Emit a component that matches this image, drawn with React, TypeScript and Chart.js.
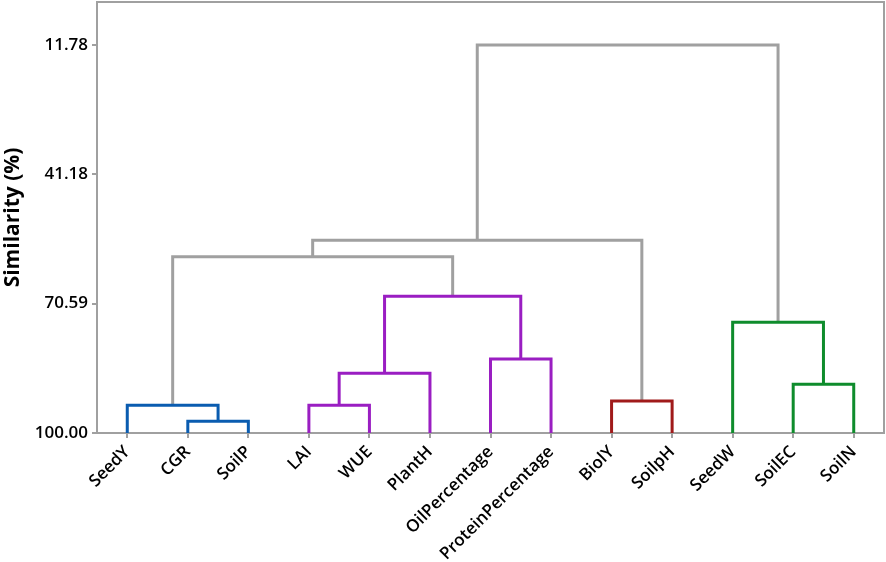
import React, { useEffect, useRef } from "react";
import { Chart, registerables } from "chart.js";

Chart.register(...registerables);

const leaves = [
  "SeedY", "CGR", "SoilP", "LAI", "WUE", "PlantH", "OilPercentage",
  "ProteinPercentage", "BiolY", "SoilpH", "SeedW", "SoilEC", "SoilN",
];

// merge k creates node (leaves.length + k)
const mergeLeft = [1, 0, 3, 15, 6, 16, 14, 8, 19, 11, 10, 21];
const mergeRight = [2, 13, 4, 5, 7, 17, 18, 9, 20, 12, 22, 23];
const mergeHeight = [97.3, 93.7, 93.7, 86.4, 83.2, 68.9, 59.9, 92.7, 56.2, 88.9, 74.8, 11.78];
const mergeColor = [
  "#0A5CB0", "#0A5CB0", "#9A1EC2", "#9A1EC2", "#9A1EC2", "#9A1EC2",
  "#A0A0A0", "#A01A1A", "#A0A0A0", "#0E8C2C", "#0E8C2C", "#A0A0A0",
];

const yTicks = [11.78, 41.18, 70.59, 100.0];

const FONT = "'Open Sans', 'Noto Sans', sans-serif";
const GRAY = "#A0A0A0";

function buildDatasets() {
  const n = leaves.length;
  const nodeX: number[] = leaves.map((_, i) => i);
  const nodeY: number[] = leaves.map(() => 100);
  const datasets: any[] = [];
  mergeLeft.forEach((a, k) => {
    const b = mergeRight[k];
    const h = mergeHeight[k];
    const pts = [
      { x: nodeX[a], y: nodeY[a] },
      { x: nodeX[a], y: h },
      { x: nodeX[b], y: h },
      { x: nodeX[b], y: nodeY[b] },
    ];
    nodeX[n + k] = (nodeX[a] + nodeX[b]) / 2;
    nodeY[n + k] = h;
    datasets.push({
      data: pts,
      borderColor: mergeColor[k],
      borderWidth: 3,
      pointRadius: 0,
      fill: false,
      tension: 0,
      borderJoinStyle: "miter",
      borderCapStyle: "butt",
    });
  });
  return datasets;
}

const framePlugin = {
  id: "frame",
  beforeDatasetsDraw(chart: any) {
    const { ctx, chartArea } = chart;
    ctx.save();
    ctx.strokeStyle = GRAY;
    ctx.lineWidth = 2;
    ctx.beginPath();
    ctx.moveTo(chartArea.left, chartArea.top);
    ctx.lineTo(chartArea.right, chartArea.top);
    ctx.lineTo(chartArea.right, chartArea.bottom);
    ctx.stroke();
    ctx.restore();
  },
};

export default function App() {
  const ref = useRef<HTMLCanvasElement | null>(null);
  useEffect(() => {
    document.body.style.margin = "0";
    const chart = new Chart(ref.current!, {
      type: "line",
      data: { datasets: buildDatasets() },
      plugins: [framePlugin],
      options: {
        animation: false,
        responsive: true,
        maintainAspectRatio: false,
        layout: { padding: { top: 2, right: 2, left: 0, bottom: 0 } },
        plugins: { legend: { display: false }, tooltip: { enabled: false } },
        scales: {
          x: {
            type: "linear",
            min: -0.5,
            max: leaves.length - 0.5,
            afterBuildTicks: (s: any) => {
              s.ticks = leaves.map((_, i) => ({ value: i }));
            },
            afterFit: (s: any) => {
              s.height = 129;
              s.paddingLeft = 0;
              s.paddingRight = 0;
            },
            ticks: {
              autoSkip: false,
              minRotation: 45,
              maxRotation: 45,
              padding: 4,
              color: "#000",
              font: { family: FONT, size: 17, weight: "600" },
              callback: (v: any) => leaves[Math.round(Number(v))] ?? "",
            },
            grid: { drawOnChartArea: false, drawTicks: true, tickLength: 5, color: GRAY, lineWidth: 2 },
            border: { color: GRAY, width: 2 },
          },
          y: {
            type: "linear",
            reverse: true,
            min: 2.0,
            max: 100,
            afterBuildTicks: (s: any) => {
              s.ticks = yTicks.map((v) => ({ value: v }));
            },
            afterFit: (s: any) => {
              s.width = 97;
              s.paddingTop = 0;
              s.paddingBottom = 0;
            },
            ticks: {
              padding: 4,
              color: "#000",
              font: { family: FONT, size: 17, weight: "600" },
              callback: (v: any) => Number(v).toFixed(2),
            },
            grid: { drawOnChartArea: false, drawTicks: true, tickLength: 5, color: GRAY, lineWidth: 2 },
            border: { color: GRAY, width: 2 },
            title: {
              display: true,
              text: "Similarity (%)",
              color: "#000",
              padding: { top: 0, bottom: 0 },
              font: { family: FONT, size: 21, weight: "bold" },
            },
          },
        },
      },
    });
    return () => chart.destroy();
  }, []);
  return (
    <div style={{ width: 886, height: 562, position: "relative" }}>
      <canvas ref={ref} />
    </div>
  );
}
